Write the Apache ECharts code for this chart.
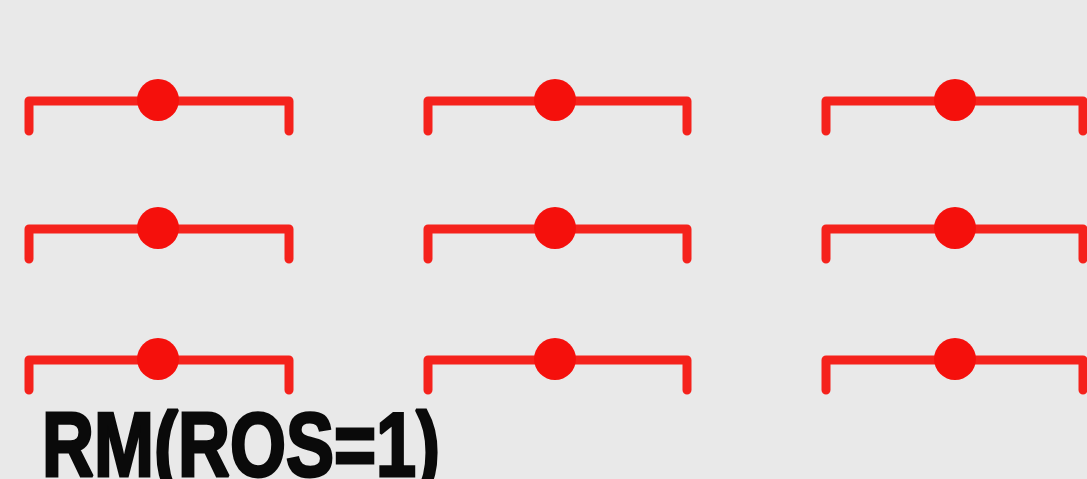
<!DOCTYPE html>
<html>
<head>
<meta charset="utf-8">
<script src="https://cdn.jsdelivr.net/npm/echarts@6/dist/echarts.min.js"></script>
<style>
  html, body { margin: 0; padding: 0; background: #e9e9e9; }
  #main { width: 1087px; height: 479px; }
</style>
</head>
<body>
<div id="main"></div>
<script>
// three rows of intervals, same in every column
const rows = [101, 229, 360];
const lower = [29, 428, 826];
const point = [158, 555, 955];
const upper = [289, 687, 1083];
const label = "RM(ROS=1)";

const data = [];
rows.forEach(function (y) {
  for (let i = 0; i < point.length; i++) {
    data.push([lower[i], point[i], upper[i], y]);
  }
});

const chart = echarts.init(document.getElementById("main"));

chart.setOption({
  backgroundColor: "#e9e9e9",
  animation: false,
  graphic: [
    {
      type: "text",
      x: 42,
      y: 406,
      scaleX: 0.8,
      style: {
        text: label,
        font: "bold 90px 'Liberation Sans', Arial, sans-serif",
        fill: "#0a0a0a",
        stroke: "#0a0a0a",
        lineWidth: 3,
        verticalAlign: "top",
      },
    },
  ],
  grid: { left: 0, right: 0, top: 0, bottom: 0 },
  xAxis: { type: "value", min: 0, max: 1087, show: false },
  yAxis: { type: "value", min: 0, max: 479, inverse: true, show: false },
  series: [
    {
      type: "custom",
      data: data,
      renderItem: function (params, api) {
        const lo = api.coord([api.value(0), api.value(3)]);
        const mid = api.coord([api.value(1), api.value(3)]);
        const hi = api.coord([api.value(2), api.value(3)]);
        const drop = 30;
        return {
          type: "group",
          children: [
            {
              type: "polyline",
              shape: {
                points: [
                  [lo[0], lo[1] + drop],
                  [lo[0], lo[1]],
                  [hi[0], hi[1]],
                  [hi[0], hi[1] + drop],
                ],
              },
              style: {
                stroke: "#f5221c",
                lineWidth: 9,
                fill: null,
                lineJoin: "round",
                lineCap: "round",
              },
            },
            {
              type: "circle",
              shape: { cx: mid[0], cy: mid[1] - 1, r: 21 },
              style: { fill: "#f5100c" },
            },
          ],
        };
      },
    },
  ],
});
</script>
</body>
</html>
